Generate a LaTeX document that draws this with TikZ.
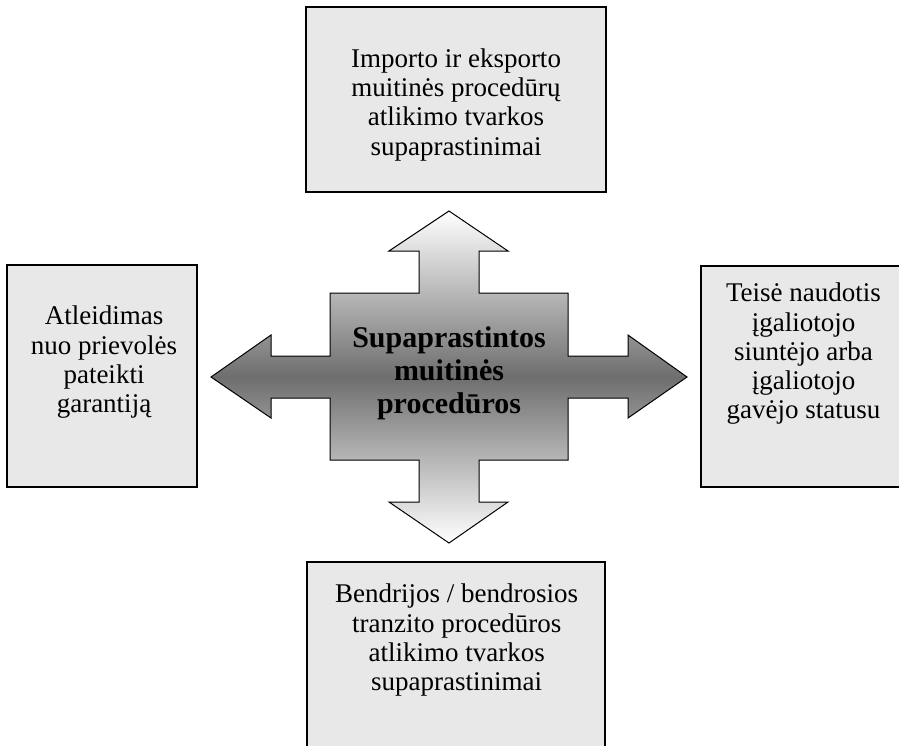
\documentclass[tikz,border=0pt]{standalone}
\usepackage{fontspec}
\setmainfont{Liberation Serif}
\begin{document}
\begin{tikzpicture}[x=1pt,y=-1pt,
  box/.style={draw=black,line width=1.3pt,fill=boxgray,inner sep=0pt,outer sep=0pt},
  boxtext/.style={font=\fontsize{27}{29.2}\selectfont,align=center,anchor=north,inner sep=0pt},
  hubtext/.style={font=\fontsize{30}{33.2}\selectfont\bfseries,align=center,anchor=north,inner sep=0pt},
  cross/.style={draw=black,line width=1pt,top color=white,bottom color=white,middle color=crossgray}]
\definecolor{boxgray}{HTML}{E8E8E8}
\definecolor{crossgray}{HTML}{6E6E6E}
\useasboundingbox (0,0) rectangle (899,745);
\fill[white] (0,0) rectangle (899,745);

% outer boxes
\node[box,minimum width=300pt,minimum height=185pt] (topbox) at (456,99.5) {};
\node[box,minimum width=190pt,minimum height=222pt] (leftbox) at (102,376) {};
\node[box,minimum width=204pt,minimum height=221pt] (rightbox) at (803,376.5) {};
\node[box,minimum width=298pt,minimum height=190pt] (bottombox) at (456,657) {};

% four-way arrow in the middle
\draw[cross] (449,211) -- (508,251) -- (479,251) -- (479,293) -- (568,293)
  -- (568,356) -- (628,356) -- (628,335) -- (687,377) -- (628,418) -- (628,398)
  -- (568,398) -- (568,460) -- (479,460) -- (479,502) -- (508,502) -- (449,543)
  -- (389,502) -- (419,502) -- (419,460) -- (330,460) -- (330,398) -- (271,398)
  -- (271,418) -- (211,377) -- (271,335) -- (271,356) -- (330,356) -- (330,293)
  -- (419,293) -- (419,251) -- (389,251) -- cycle;

% labels
\node[hubtext] (hub) at (449,326) {Supaprastintos\\muitinės\\procedūros};
\node[boxtext] (toptext) at (456,48.5) {Importo ir eksporto\\muitinės procedūrų\\atlikimo tvarkos\\supaprastinimai};
\node[boxtext] (lefttext) at (104,306) {Atleidimas\\nuo prievolės\\pateikti\\garantiją};
\node[boxtext] (righttext) at (803.5,283) {Teisė naudotis\\įgaliotojo\\siuntėjo arba\\įgaliotojo\\gavėjo statusu};
\node[boxtext] (bottomtext) at (456.7,584) {Bendrijos / bendrosios\\tranzito procedūros\\atlikimo tvarkos\\supaprastinimai};
\end{tikzpicture}
\end{document}
